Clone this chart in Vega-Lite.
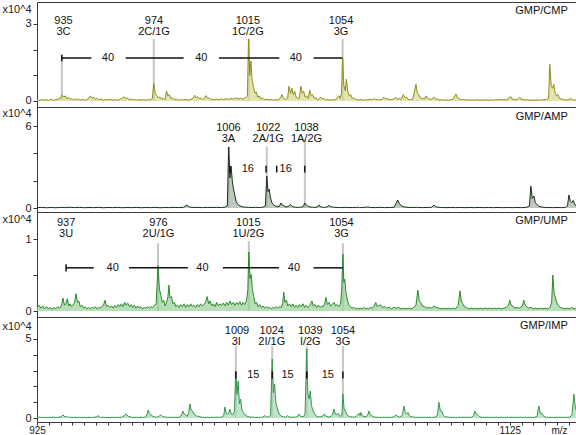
{
"$schema": "https://vega.github.io/schema/vega-lite/v6.json",
"padding": {"top": 1, "left": 0, "right": 1, "bottom": 0},
"spacing": 0,
"bounds": "flush",
"config": {
 "font": "Liberation Sans",
 "view": {"stroke": "#3a3a3a", "strokeWidth": 1},
 "axis": {"grid": false, "domain": false, "tickColor": "#333", "labelColor": "#222", "labelFontSize": 11, "titleFontSize": 11, "titleFontWeight": "normal", "titleColor": "#222", "tickSize": 3},
 "axisY": {"minExtent": 36, "maxExtent": 36, "labelPadding": 2, "tickSize": 4, "titleAngle": 0, "titleX": -35, "titleY": 7, "titleAlign": "left", "titleBaseline": "middle", "format": "~g"}
},
"datasets": {
 "cmp": [
  {"m":925,"v":0.05},{"m":926,"v":0.02},{"m":927,"v":0.06},{"m":928,"v":0.03},{"m":929,"v":0.05},{"m":930,"v":0.02},{"m":931,"v":0.07},{"m":932,"v":0.03},{"m":933,"v":0.05},{"m":934,"v":0.08},{"m":935,"v":0.12},{"m":935.6,"v":0.23},{"m":936.3,"v":0.15},{"m":937,"v":0.2},{"m":937.6,"v":0.08},{"m":938.3,"v":0.14},{"m":939,"v":0.06},{"m":939.7,"v":0.1},{"m":940.4,"v":0.04},{"m":941.1,"v":0.09},{"m":941.8,"v":0.05},{"m":942.5,"v":0.08},{"m":943.2,"v":0.03},{"m":944,"v":0.06},{"m":945,"v":0.03},{"m":946,"v":0.05},{"m":947,"v":0.12},{"m":947.6,"v":0.2},{"m":948.3,"v":0.1},{"m":949,"v":0.15},{"m":949.7,"v":0.06},{"m":950.4,"v":0.1},{"m":951.1,"v":0.04},{"m":952,"v":0.08},{"m":953,"v":0.03},{"m":954,"v":0.06},{"m":955,"v":0.04},{"m":956,"v":0.07},{"m":957,"v":0.03},{"m":958,"v":0.05},{"m":959,"v":0.03},{"m":960,"v":0.06},{"m":961,"v":0.1},{"m":961.7,"v":0.17},{"m":962.4,"v":0.08},{"m":963.1,"v":0.13},{"m":963.8,"v":0.05},{"m":964.5,"v":0.09},{"m":965.3,"v":0.04},{"m":966,"v":0.06},{"m":967,"v":0.03},{"m":968,"v":0.05},{"m":969,"v":0.04},{"m":970,"v":0.06},{"m":971,"v":0.03},{"m":972,"v":0.05},{"m":973,"v":0.04},{"m":973.8,"v":0.1},{"m":974.4,"v":0.68},{"m":975,"v":0.3},{"m":975.6,"v":0.22},{"m":976.3,"v":0.12},{"m":977,"v":0.16},{"m":977.7,"v":0.07},{"m":978.4,"v":0.1},{"m":979.1,"v":0.05},{"m":979.8,"v":0.39},{"m":980.4,"v":0.2},{"m":981,"v":0.25},{"m":981.6,"v":0.1},{"m":982.3,"v":0.12},{"m":983,"v":0.05},{"m":984,"v":0.07},{"m":985,"v":0.03},{"m":986,"v":0.05},{"m":987,"v":0.04},{"m":988,"v":0.06},{"m":989,"v":0.03},{"m":990,"v":0.06},{"m":991,"v":0.1},{"m":991.7,"v":0.22},{"m":992.3,"v":0.12},{"m":993,"v":0.17},{"m":993.7,"v":0.08},{"m":994.4,"v":0.12},{"m":995.1,"v":0.06},{"m":995.8,"v":0.1},{"m":996.5,"v":0.21},{"m":997.2,"v":0.1},{"m":997.9,"v":0.12},{"m":998.6,"v":0.05},{"m":999.3,"v":0.08},{"m":1000,"v":0.04},{"m":1001,"v":0.07},{"m":1002,"v":0.05},{"m":1003,"v":0.08},{"m":1004,"v":0.06},{"m":1005,"v":0.09},{"m":1006,"v":0.06},{"m":1007,"v":0.1},{"m":1008,"v":0.07},{"m":1009,"v":0.12},{"m":1010,"v":0.08},{"m":1011,"v":0.11},{"m":1012,"v":0.07},{"m":1013,"v":0.12},{"m":1014,"v":0.2},{"m":1014.5,"v":2.42},{"m":1015,"v":1.0},{"m":1015.5,"v":1.55},{"m":1016,"v":0.8},{"m":1016.6,"v":0.55},{"m":1017.2,"v":0.3},{"m":1017.8,"v":0.35},{"m":1018.4,"v":0.15},{"m":1019,"v":0.2},{"m":1019.7,"v":0.08},{"m":1020.4,"v":0.12},{"m":1021.1,"v":0.05},{"m":1022,"v":0.07},{"m":1023,"v":0.04},{"m":1024,"v":0.06},{"m":1025,"v":0.03},{"m":1026,"v":0.05},{"m":1027,"v":0.04},{"m":1028,"v":0.12},{"m":1028.6,"v":0.25},{"m":1029.2,"v":0.1},{"m":1030,"v":0.06},{"m":1031,"v":0.1},{"m":1031.6,"v":0.58},{"m":1032.2,"v":0.3},{"m":1032.8,"v":0.5},{"m":1033.4,"v":0.25},{"m":1034,"v":0.38},{"m":1034.6,"v":0.15},{"m":1035.3,"v":0.1},{"m":1036,"v":0.12},{"m":1036.6,"v":0.58},{"m":1037.2,"v":0.3},{"m":1037.8,"v":0.38},{"m":1038.4,"v":0.15},{"m":1039,"v":0.2},{"m":1039.7,"v":0.1},{"m":1040.4,"v":0.42},{"m":1041,"v":0.2},{"m":1041.6,"v":0.25},{"m":1042.3,"v":0.1},{"m":1043,"v":0.12},{"m":1043.7,"v":0.05},{"m":1044.4,"v":0.08},{"m":1045,"v":0.15},{"m":1045.6,"v":0.08},{"m":1046.3,"v":0.1},{"m":1047,"v":0.04},{"m":1048,"v":0.06},{"m":1049,"v":0.03},{"m":1050,"v":0.05},{"m":1051,"v":0.04},{"m":1052,"v":0.12},{"m":1052.6,"v":0.2},{"m":1053.2,"v":0.1},{"m":1053.8,"v":0.3},{"m":1054.3,"v":1.64},{"m":1054.8,"v":0.6},{"m":1055.4,"v":0.4},{"m":1055.9,"v":0.85},{"m":1056.5,"v":0.35},{"m":1057.1,"v":0.2},{"m":1057.7,"v":0.25},{"m":1058.3,"v":0.1},{"m":1059,"v":0.12},{"m":1060,"v":0.05},{"m":1061,"v":0.04},{"m":1062,"v":0.06},{"m":1063,"v":0.03},{"m":1064,"v":0.05},{"m":1065,"v":0.04},{"m":1066,"v":0.06},{"m":1067,"v":0.05},{"m":1067.5,"v":0.1},{"m":1068.2,"v":0.05},{"m":1069,"v":0.06},{"m":1070,"v":0.04},{"m":1071,"v":0.07},{"m":1071.7,"v":0.15},{"m":1072.4,"v":0.08},{"m":1073.1,"v":0.1},{"m":1074,"v":0.05},{"m":1075,"v":0.06},{"m":1076,"v":0.08},{"m":1076.8,"v":0.15},{"m":1077.5,"v":0.07},{"m":1078.2,"v":0.1},{"m":1079,"v":0.06},{"m":1080,"v":0.25},{"m":1080.6,"v":0.12},{"m":1081.3,"v":0.15},{"m":1082,"v":0.06},{"m":1083,"v":0.05},{"m":1084,"v":0.08},{"m":1085.3,"v":0.65},{"m":1085.9,"v":0.3},{"m":1086.5,"v":0.25},{"m":1087.2,"v":0.12},{"m":1088,"v":0.1},{"m":1089,"v":0.08},{"m":1089.5,"v":0.2},{"m":1090.2,"v":0.1},{"m":1091,"v":0.08},{"m":1092,"v":0.06},{"m":1092.9,"v":0.15},{"m":1093.6,"v":0.07},{"m":1094.3,"v":0.08},{"m":1095,"v":0.04},{"m":1096,"v":0.05},{"m":1097,"v":0.03},{"m":1098,"v":0.04},{"m":1099,"v":0.03},{"m":1100,"v":0.05},{"m":1101,"v":0.06},{"m":1102.2,"v":0.27},{"m":1102.8,"v":0.12},{"m":1103.5,"v":0.1},{"m":1104.2,"v":0.05},{"m":1105,"v":0.06},{"m":1106,"v":0.04},{"m":1107,"v":0.05},{"m":1108,"v":0.03},{"m":1109,"v":0.04},{"m":1110,"v":0.03},{"m":1111,"v":0.05},{"m":1112,"v":0.03},{"m":1113,"v":0.04},{"m":1114,"v":0.03},{"m":1115,"v":0.05},{"m":1116,"v":0.03},{"m":1117,"v":0.04},{"m":1118,"v":0.03},{"m":1119,"v":0.05},{"m":1120,"v":0.04},{"m":1121,"v":0.06},{"m":1122,"v":0.04},{"m":1123,"v":0.05},{"m":1124,"v":0.07},{"m":1125.4,"v":0.17},{"m":1126,"v":0.08},{"m":1127,"v":0.06},{"m":1128,"v":0.05},{"m":1129.2,"v":0.15},{"m":1129.8,"v":0.07},{"m":1130.5,"v":0.06},{"m":1131.5,"v":0.04},{"m":1132.5,"v":0.05},{"m":1133.5,"v":0.03},{"m":1134.5,"v":0.04},{"m":1135.5,"v":0.03},{"m":1136.5,"v":0.04},{"m":1137.5,"v":0.03},{"m":1138.5,"v":0.04},{"m":1139.5,"v":0.05},{"m":1140.5,"v":0.06},{"m":1141.4,"v":0.1},{"m":1141.9,"v":1.43},{"m":1142.5,"v":0.6},{"m":1143.1,"v":0.5},{"m":1143.6,"v":0.65},{"m":1144.2,"v":0.3},{"m":1144.8,"v":0.2},{"m":1145.4,"v":0.25},{"m":1146,"v":0.1},{"m":1147,"v":0.07},{"m":1148,"v":0.05},{"m":1149,"v":0.04},{"m":1150,"v":0.06},{"m":1150.8,"v":0.1},{"m":1151.5,"v":0.04},{"m":1152.3,"v":0.05},{"m":1153,"v":0.03}
 ],
 "amp": [
  {"m":925,"v":0.03},{"m":927,"v":0.05},{"m":929,"v":0.02},{"m":931,"v":0.04},{"m":933,"v":0.02},{"m":935,"v":0.05},{"m":937,"v":0.03},{"m":939,"v":0.06},{"m":941,"v":0.03},{"m":943,"v":0.05},{"m":945,"v":0.02},{"m":947,"v":0.04},{"m":949,"v":0.03},{"m":951,"v":0.05},{"m":953,"v":0.02},{"m":955,"v":0.04},{"m":957,"v":0.03},{"m":959,"v":0.05},{"m":961,"v":0.02},{"m":963,"v":0.04},{"m":965,"v":0.03},{"m":967,"v":0.05},{"m":969,"v":0.02},{"m":971,"v":0.04},{"m":973,"v":0.03},{"m":975,"v":0.05},{"m":977,"v":0.02},{"m":979,"v":0.04},{"m":981,"v":0.03},{"m":983,"v":0.05},{"m":985,"v":0.03},{"m":987,"v":0.06},{"m":988.4,"v":0.22},{"m":989.2,"v":0.1},{"m":990,"v":0.06},{"m":991,"v":0.04},{"m":993,"v":0.05},{"m":995,"v":0.03},{"m":997,"v":0.05},{"m":999,"v":0.04},{"m":1001,"v":0.05},{"m":1003,"v":0.04},{"m":1004.5,"v":0.06},{"m":1005.5,"v":0.15},{"m":1006.1,"v":4.46},{"m":1006.6,"v":2.2},{"m":1007.1,"v":3.07},{"m":1007.6,"v":2.0},{"m":1008.1,"v":1.4},{"m":1008.6,"v":1.0},{"m":1009.2,"v":0.5},{"m":1009.8,"v":0.3},{"m":1010.5,"v":0.2},{"m":1011.3,"v":0.12},{"m":1012.2,"v":0.08},{"m":1013.2,"v":0.06},{"m":1014.5,"v":0.05},{"m":1016,"v":0.04},{"m":1017.5,"v":0.05},{"m":1019,"v":0.04},{"m":1020.5,"v":0.06},{"m":1021.6,"v":0.15},{"m":1022.2,"v":2.34},{"m":1022.7,"v":1.2},{"m":1023.2,"v":1.39},{"m":1023.7,"v":0.8},{"m":1024.3,"v":0.4},{"m":1025,"v":0.25},{"m":1025.8,"v":0.15},{"m":1026.6,"v":0.1},{"m":1027.5,"v":0.12},{"m":1028.2,"v":0.37},{"m":1028.9,"v":0.2},{"m":1029.6,"v":0.15},{"m":1030.3,"v":0.08},{"m":1031.2,"v":0.1},{"m":1032.2,"v":0.25},{"m":1032.9,"v":0.12},{"m":1033.6,"v":0.08},{"m":1034.5,"v":0.06},{"m":1035.5,"v":0.05},{"m":1036.5,"v":0.06},{"m":1037.6,"v":0.1},{"m":1038.3,"v":0.37},{"m":1039,"v":0.2},{"m":1039.7,"v":0.12},{"m":1040.5,"v":0.08},{"m":1041.5,"v":0.06},{"m":1042.5,"v":0.05},{"m":1043.5,"v":0.07},{"m":1044.2,"v":0.22},{"m":1044.9,"v":0.1},{"m":1045.7,"v":0.06},{"m":1046.6,"v":0.05},{"m":1047.6,"v":0.07},{"m":1048.5,"v":0.2},{"m":1049.2,"v":0.1},{"m":1050,"v":0.07},{"m":1051,"v":0.05},{"m":1052.5,"v":0.04},{"m":1054,"v":0.03},{"m":1055.5,"v":0.05},{"m":1057,"v":0.03},{"m":1058.5,"v":0.04},{"m":1060,"v":0.03},{"m":1060.7,"v":0.07},{"m":1061.5,"v":0.03},{"m":1063,"v":0.04},{"m":1065,"v":0.08},{"m":1066,"v":0.04},{"m":1068,"v":0.03},{"m":1070,"v":0.05},{"m":1072,"v":0.03},{"m":1074,"v":0.04},{"m":1076,"v":0.05},{"m":1077.6,"v":0.58},{"m":1078.3,"v":0.3},{"m":1079,"v":0.2},{"m":1079.8,"v":0.1},{"m":1080.8,"v":0.07},{"m":1082,"v":0.05},{"m":1084,"v":0.04},{"m":1086,"v":0.05},{"m":1088,"v":0.03},{"m":1090,"v":0.04},{"m":1092,"v":0.06},{"m":1092.9,"v":0.22},{"m":1093.6,"v":0.1},{"m":1094.5,"v":0.06},{"m":1096,"v":0.04},{"m":1098,"v":0.03},{"m":1100,"v":0.04},{"m":1102,"v":0.03},{"m":1104,"v":0.04},{"m":1106,"v":0.03},{"m":1108,"v":0.04},{"m":1110,"v":0.03},{"m":1112,"v":0.04},{"m":1114,"v":0.03},{"m":1116,"v":0.04},{"m":1118,"v":0.03},{"m":1120,"v":0.04},{"m":1122,"v":0.03},{"m":1124,"v":0.04},{"m":1126,"v":0.03},{"m":1128,"v":0.04},{"m":1130,"v":0.03},{"m":1132,"v":0.05},{"m":1133.3,"v":0.15},{"m":1133.9,"v":1.6},{"m":1134.5,"v":0.7},{"m":1135.2,"v":0.88},{"m":1135.8,"v":0.4},{"m":1136.5,"v":0.25},{"m":1137.3,"v":0.12},{"m":1138.2,"v":0.08},{"m":1139.5,"v":0.05},{"m":1141,"v":0.04},{"m":1143,"v":0.03},{"m":1145,"v":0.04},{"m":1147,"v":0.03},{"m":1148.5,"v":0.05},{"m":1149.4,"v":0.15},{"m":1150,"v":0.95},{"m":1150.6,"v":0.5},{"m":1151.2,"v":0.4},{"m":1151.8,"v":0.55},{"m":1152.4,"v":0.3},{"m":1153,"v":0.15}
 ],
 "ump": [
  {"m":925,"v":0.05},{"m":925.8,"v":0.08},{"m":926.6,"v":0.04},{"m":927.4,"v":0.07},{"m":928.2,"v":0.03},{"m":929,"v":0.06},{"m":929.8,"v":0.03},{"m":930.6,"v":0.05},{"m":931.4,"v":0.02},{"m":932.2,"v":0.05},{"m":933,"v":0.03},{"m":933.8,"v":0.06},{"m":934.6,"v":0.04},{"m":935.4,"v":0.08},{"m":936,"v":0.18},{"m":936.6,"v":0.08},{"m":937.2,"v":0.1},{"m":937.8,"v":0.17},{"m":938.4,"v":0.07},{"m":939,"v":0.1},{"m":939.6,"v":0.06},{"m":940.2,"v":0.08},{"m":940.9,"v":0.12},{"m":941.5,"v":0.24},{"m":942.1,"v":0.12},{"m":942.7,"v":0.14},{"m":943.3,"v":0.06},{"m":944,"v":0.08},{"m":944.7,"v":0.04},{"m":945.4,"v":0.06},{"m":946.1,"v":0.03},{"m":946.8,"v":0.05},{"m":947.5,"v":0.03},{"m":948.2,"v":0.05},{"m":948.9,"v":0.04},{"m":949.6,"v":0.06},{"m":950.3,"v":0.03},{"m":951,"v":0.05},{"m":951.7,"v":0.04},{"m":952.4,"v":0.06},{"m":953.1,"v":0.08},{"m":953.8,"v":0.15},{"m":954.4,"v":0.06},{"m":955.1,"v":0.08},{"m":955.8,"v":0.05},{"m":956.5,"v":0.07},{"m":957.2,"v":0.04},{"m":957.9,"v":0.08},{"m":958.6,"v":0.05},{"m":959.3,"v":0.09},{"m":960,"v":0.06},{"m":960.7,"v":0.1},{"m":961.4,"v":0.06},{"m":962.1,"v":0.12},{"m":962.7,"v":0.08},{"m":963.4,"v":0.11},{"m":964.1,"v":0.06},{"m":964.8,"v":0.09},{"m":965.5,"v":0.05},{"m":966.2,"v":0.08},{"m":966.9,"v":0.04},{"m":967.6,"v":0.07},{"m":968.3,"v":0.04},{"m":969,"v":0.06},{"m":969.7,"v":0.03},{"m":970.4,"v":0.05},{"m":971.1,"v":0.04},{"m":971.8,"v":0.06},{"m":972.5,"v":0.04},{"m":973.2,"v":0.06},{"m":973.9,"v":0.05},{"m":974.6,"v":0.07},{"m":975.4,"v":0.1},{"m":976.2,"v":0.63},{"m":976.8,"v":0.3},{"m":977.4,"v":0.22},{"m":978,"v":0.12},{"m":978.6,"v":0.15},{"m":979.2,"v":0.07},{"m":979.8,"v":0.12},{"m":980.4,"v":0.2},{"m":980.8,"v":0.36},{"m":981.3,"v":0.18},{"m":981.9,"v":0.2},{"m":982.5,"v":0.1},{"m":983.1,"v":0.12},{"m":983.7,"v":0.06},{"m":984.4,"v":0.08},{"m":985.1,"v":0.05},{"m":985.8,"v":0.09},{"m":986.5,"v":0.06},{"m":987.2,"v":0.1},{"m":987.9,"v":0.05},{"m":988.6,"v":0.09},{"m":989.3,"v":0.06},{"m":990,"v":0.1},{"m":990.7,"v":0.06},{"m":991.4,"v":0.08},{"m":992.1,"v":0.05},{"m":992.8,"v":0.09},{"m":993.5,"v":0.06},{"m":994.2,"v":0.1},{"m":994.9,"v":0.07},{"m":995.6,"v":0.09},{"m":996.3,"v":0.12},{"m":997,"v":0.2},{"m":997.6,"v":0.1},{"m":998.2,"v":0.14},{"m":998.9,"v":0.07},{"m":999.6,"v":0.1},{"m":1000.3,"v":0.06},{"m":1001,"v":0.12},{"m":1001.7,"v":0.07},{"m":1002.4,"v":0.1},{"m":1003.1,"v":0.08},{"m":1003.8,"v":0.11},{"m":1004.5,"v":0.07},{"m":1005.2,"v":0.12},{"m":1005.9,"v":0.08},{"m":1006.6,"v":0.14},{"m":1007.3,"v":0.09},{"m":1008,"v":0.12},{"m":1008.7,"v":0.08},{"m":1009.4,"v":0.12},{"m":1010.1,"v":0.09},{"m":1010.8,"v":0.13},{"m":1011.5,"v":0.08},{"m":1012.2,"v":0.12},{"m":1012.9,"v":0.09},{"m":1013.6,"v":0.14},{"m":1014.2,"v":0.3},{"m":1014.6,"v":0.82},{"m":1015.1,"v":0.45},{"m":1015.6,"v":0.51},{"m":1016.1,"v":0.3},{"m":1016.7,"v":0.2},{"m":1017.3,"v":0.1},{"m":1017.9,"v":0.12},{"m":1018.5,"v":0.06},{"m":1019.2,"v":0.09},{"m":1019.9,"v":0.05},{"m":1020.6,"v":0.07},{"m":1021.3,"v":0.04},{"m":1022,"v":0.06},{"m":1022.7,"v":0.04},{"m":1023.4,"v":0.05},{"m":1024.1,"v":0.03},{"m":1024.8,"v":0.05},{"m":1025.5,"v":0.04},{"m":1026.2,"v":0.06},{"m":1026.9,"v":0.04},{"m":1027.6,"v":0.06},{"m":1028.3,"v":0.05},{"m":1028.9,"v":0.1},{"m":1029.4,"v":0.26},{"m":1029.9,"v":0.12},{"m":1030.5,"v":0.15},{"m":1031.1,"v":0.07},{"m":1031.8,"v":0.1},{"m":1032.5,"v":0.06},{"m":1033.2,"v":0.1},{"m":1033.9,"v":0.05},{"m":1034.6,"v":0.08},{"m":1035.3,"v":0.05},{"m":1036,"v":0.09},{"m":1036.7,"v":0.06},{"m":1037.5,"v":0.1},{"m":1038.2,"v":0.05},{"m":1038.9,"v":0.08},{"m":1039.6,"v":0.05},{"m":1040.3,"v":0.07},{"m":1041.3,"v":0.14},{"m":1041.9,"v":0.07},{"m":1042.6,"v":0.09},{"m":1043.3,"v":0.05},{"m":1044,"v":0.08},{"m":1044.7,"v":0.05},{"m":1045.4,"v":0.07},{"m":1046.1,"v":0.06},{"m":1046.7,"v":0.1},{"m":1047.2,"v":0.19},{"m":1047.8,"v":0.09},{"m":1048.5,"v":0.12},{"m":1049.2,"v":0.07},{"m":1049.9,"v":0.09},{"m":1050.6,"v":0.12},{"m":1051.3,"v":0.07},{"m":1052,"v":0.09},{"m":1052.7,"v":0.06},{"m":1053.4,"v":0.1},{"m":1053.9,"v":0.3},{"m":1054.4,"v":0.79},{"m":1054.8,"v":0.4},{"m":1055.2,"v":0.44},{"m":1055.7,"v":0.25},{"m":1056.3,"v":0.15},{"m":1056.9,"v":0.08},{"m":1057.6,"v":0.06},{"m":1058.3,"v":0.04},{"m":1059,"v":0.05},{"m":1059.7,"v":0.03},{"m":1060.4,"v":0.04},{"m":1061.1,"v":0.03},{"m":1061.8,"v":0.04},{"m":1062.5,"v":0.03},{"m":1063.2,"v":0.05},{"m":1063.9,"v":0.03},{"m":1064.6,"v":0.04},{"m":1065.3,"v":0.03},{"m":1066,"v":0.05},{"m":1066.7,"v":0.04},{"m":1067.5,"v":0.06},{"m":1068.3,"v":0.12},{"m":1068.9,"v":0.06},{"m":1069.6,"v":0.08},{"m":1070.5,"v":0.08},{"m":1071.2,"v":0.05},{"m":1072,"v":0.06},{"m":1073,"v":0.04},{"m":1074,"v":0.05},{"m":1075,"v":0.03},{"m":1076,"v":0.05},{"m":1077,"v":0.04},{"m":1078,"v":0.05},{"m":1079,"v":0.03},{"m":1080,"v":0.04},{"m":1081,"v":0.03},{"m":1082,"v":0.04},{"m":1083,"v":0.03},{"m":1084,"v":0.04},{"m":1085.3,"v":0.08},{"m":1086.1,"v":0.29},{"m":1086.7,"v":0.14},{"m":1087.3,"v":0.12},{"m":1088,"v":0.07},{"m":1089,"v":0.06},{"m":1090,"v":0.04},{"m":1091,"v":0.05},{"m":1092,"v":0.04},{"m":1092.9,"v":0.07},{"m":1093.8,"v":0.05},{"m":1095,"v":0.04},{"m":1096,"v":0.03},{"m":1097,"v":0.04},{"m":1098,"v":0.03},{"m":1099,"v":0.04},{"m":1100,"v":0.03},{"m":1101,"v":0.04},{"m":1102,"v":0.03},{"m":1103.2,"v":0.08},{"m":1103.9,"v":0.28},{"m":1104.5,"v":0.14},{"m":1105.1,"v":0.1},{"m":1105.8,"v":0.06},{"m":1106.6,"v":0.05},{"m":1107.5,"v":0.03},{"m":1108.5,"v":0.04},{"m":1109.5,"v":0.03},{"m":1110.5,"v":0.04},{"m":1111.5,"v":0.03},{"m":1112.5,"v":0.04},{"m":1113.5,"v":0.03},{"m":1114.5,"v":0.04},{"m":1115.5,"v":0.03},{"m":1116.5,"v":0.04},{"m":1117.5,"v":0.03},{"m":1118.5,"v":0.04},{"m":1119.5,"v":0.03},{"m":1120.5,"v":0.04},{"m":1121.5,"v":0.03},{"m":1122.5,"v":0.04},{"m":1123.5,"v":0.05},{"m":1124.4,"v":0.08},{"m":1125,"v":0.15},{"m":1125.6,"v":0.08},{"m":1126.3,"v":0.07},{"m":1127,"v":0.04},{"m":1128,"v":0.05},{"m":1129,"v":0.04},{"m":1130.3,"v":0.07},{"m":1130.9,"v":0.15},{"m":1131.5,"v":0.08},{"m":1132.2,"v":0.06},{"m":1133,"v":0.04},{"m":1134,"v":0.05},{"m":1135,"v":0.03},{"m":1136,"v":0.04},{"m":1137,"v":0.03},{"m":1138,"v":0.04},{"m":1139,"v":0.03},{"m":1140,"v":0.04},{"m":1141,"v":0.03},{"m":1142,"v":0.05},{"m":1142.7,"v":0.12},{"m":1143.2,"v":0.5},{"m":1143.7,"v":0.25},{"m":1144.2,"v":0.2},{"m":1144.8,"v":0.12},{"m":1145.5,"v":0.08},{"m":1146.3,"v":0.05},{"m":1147.2,"v":0.04},{"m":1148.2,"v":0.03},{"m":1149.2,"v":0.04},{"m":1150.2,"v":0.03},{"m":1151.2,"v":0.05},{"m":1152.2,"v":0.03},{"m":1153,"v":0.04}
 ],
 "imp": [
  {"m":925,"v":0.04},{"m":926,"v":0.06},{"m":927,"v":0.03},{"m":928,"v":0.05},{"m":929,"v":0.02},{"m":930,"v":0.05},{"m":931,"v":0.03},{"m":932,"v":0.06},{"m":933,"v":0.03},{"m":934,"v":0.05},{"m":935.2,"v":0.08},{"m":936,"v":0.2},{"m":936.7,"v":0.08},{"m":937.5,"v":0.1},{"m":938.3,"v":0.04},{"m":939.2,"v":0.06},{"m":940.1,"v":0.03},{"m":941,"v":0.05},{"m":942,"v":0.03},{"m":943,"v":0.05},{"m":944,"v":0.03},{"m":945,"v":0.04},{"m":946,"v":0.03},{"m":947,"v":0.05},{"m":948,"v":0.03},{"m":949,"v":0.05},{"m":950,"v":0.06},{"m":950.8,"v":0.15},{"m":951.5,"v":0.06},{"m":952.3,"v":0.04},{"m":953.2,"v":0.05},{"m":954.1,"v":0.03},{"m":955,"v":0.04},{"m":956,"v":0.03},{"m":957,"v":0.05},{"m":958,"v":0.03},{"m":959,"v":0.05},{"m":960,"v":0.04},{"m":961,"v":0.06},{"m":961.8,"v":0.12},{"m":962.4,"v":0.25},{"m":963,"v":0.2},{"m":963.7,"v":0.1},{"m":964.4,"v":0.08},{"m":965.2,"v":0.05},{"m":966,"v":0.04},{"m":967,"v":0.05},{"m":968,"v":0.03},{"m":969,"v":0.05},{"m":970,"v":0.04},{"m":971,"v":0.06},{"m":971.5,"v":0.2},{"m":972,"v":0.5},{"m":972.6,"v":0.3},{"m":973.2,"v":0.2},{"m":973.9,"v":0.12},{"m":974.6,"v":0.08},{"m":975.4,"v":0.05},{"m":976.2,"v":0.07},{"m":977.4,"v":0.2},{"m":978.1,"v":0.1},{"m":978.9,"v":0.07},{"m":979.8,"v":0.05},{"m":980.7,"v":0.04},{"m":981.6,"v":0.05},{"m":982.5,"v":0.04},{"m":983.4,"v":0.05},{"m":984.3,"v":0.04},{"m":985.2,"v":0.06},{"m":986,"v":0.15},{"m":986.7,"v":0.44},{"m":987.3,"v":0.25},{"m":987.9,"v":0.2},{"m":988.5,"v":0.1},{"m":989.2,"v":0.35},{"m":989.7,"v":0.89},{"m":990.2,"v":0.5},{"m":990.8,"v":0.45},{"m":991.4,"v":0.25},{"m":992,"v":0.2},{"m":992.7,"v":0.1},{"m":993.4,"v":0.12},{"m":994.2,"v":0.07},{"m":995,"v":0.05},{"m":996,"v":0.04},{"m":997,"v":0.05},{"m":998,"v":0.03},{"m":999,"v":0.05},{"m":1000,"v":0.04},{"m":1001,"v":0.06},{"m":1002,"v":0.04},{"m":1003,"v":0.06},{"m":1004,"v":0.15},{"m":1004.5,"v":0.7},{"m":1005,"v":0.3},{"m":1005.5,"v":0.25},{"m":1006.1,"v":0.3},{"m":1006.6,"v":0.55},{"m":1007.2,"v":0.25},{"m":1007.8,"v":0.2},{"m":1008.5,"v":0.4},{"m":1009.1,"v":2.97},{"m":1009.6,"v":1.5},{"m":1010.1,"v":2.34},{"m":1010.6,"v":0.9},{"m":1011.1,"v":1.2},{"m":1011.7,"v":0.5},{"m":1012.3,"v":0.35},{"m":1013,"v":0.2},{"m":1013.8,"v":0.12},{"m":1014.6,"v":0.08},{"m":1015.5,"v":0.06},{"m":1016.5,"v":0.05},{"m":1017.5,"v":0.04},{"m":1018.5,"v":0.05},{"m":1019.5,"v":0.04},{"m":1020.5,"v":0.06},{"m":1021.3,"v":0.15},{"m":1022,"v":0.08},{"m":1023,"v":0.06},{"m":1023.8,"v":0.2},{"m":1024.5,"v":3.73},{"m":1025,"v":1.6},{"m":1025.5,"v":2.15},{"m":1026,"v":1.0},{"m":1026.5,"v":0.7},{"m":1027.1,"v":0.4},{"m":1027.7,"v":0.2},{"m":1028.4,"v":0.12},{"m":1029.2,"v":0.08},{"m":1030.1,"v":0.06},{"m":1031,"v":0.15},{"m":1031.7,"v":0.07},{"m":1032.5,"v":0.05},{"m":1033.3,"v":0.06},{"m":1034.2,"v":0.05},{"m":1035.1,"v":0.1},{"m":1035.8,"v":0.25},{"m":1036.4,"v":0.12},{"m":1037.1,"v":0.1},{"m":1037.8,"v":0.08},{"m":1038.4,"v":0.3},{"m":1039.1,"v":4.37},{"m":1039.6,"v":1.52},{"m":1040.1,"v":1.2},{"m":1040.6,"v":1.71},{"m":1041.1,"v":0.8},{"m":1041.7,"v":0.5},{"m":1042.3,"v":0.3},{"m":1042.9,"v":0.15},{"m":1043.6,"v":0.1},{"m":1044.4,"v":0.07},{"m":1045.2,"v":0.08},{"m":1046,"v":0.15},{"m":1046.5,"v":0.25},{"m":1047.1,"v":0.12},{"m":1047.8,"v":0.1},{"m":1048.5,"v":0.06},{"m":1049.3,"v":0.1},{"m":1050,"v":0.2},{"m":1050.6,"v":0.57},{"m":1051.2,"v":0.25},{"m":1051.8,"v":0.2},{"m":1052.3,"v":0.3},{"m":1052.9,"v":0.15},{"m":1053.5,"v":0.1},{"m":1054,"v":0.25},{"m":1054.4,"v":1.52},{"m":1054.9,"v":0.6},{"m":1055.6,"v":0.4},{"m":1056.2,"v":0.2},{"m":1056.9,"v":0.12},{"m":1057.6,"v":0.08},{"m":1058.4,"v":0.07},{"m":1059.2,"v":0.06},{"m":1060,"v":0.1},{"m":1060.6,"v":0.2},{"m":1061.2,"v":0.3},{"m":1061.7,"v":0.15},{"m":1062,"v":0.35},{"m":1062.6,"v":0.15},{"m":1063.3,"v":0.1},{"m":1064.2,"v":0.08},{"m":1064.9,"v":0.2},{"m":1065.4,"v":0.45},{"m":1066,"v":0.2},{"m":1066.6,"v":0.15},{"m":1067.3,"v":0.08},{"m":1068.1,"v":0.06},{"m":1069,"v":0.05},{"m":1070,"v":0.04},{"m":1071,"v":0.05},{"m":1072,"v":0.04},{"m":1073,"v":0.05},{"m":1074,"v":0.04},{"m":1075,"v":0.05},{"m":1076,"v":0.08},{"m":1076.8,"v":0.2},{"m":1077.5,"v":0.1},{"m":1078.3,"v":0.06},{"m":1079.2,"v":0.1},{"m":1079.7,"v":0.3},{"m":1080.2,"v":0.76},{"m":1080.8,"v":0.35},{"m":1081.4,"v":0.25},{"m":1081.9,"v":0.35},{"m":1082.5,"v":0.15},{"m":1083.2,"v":0.08},{"m":1084,"v":0.06},{"m":1085,"v":0.05},{"m":1086,"v":0.04},{"m":1087,"v":0.05},{"m":1088,"v":0.04},{"m":1089,"v":0.05},{"m":1090,"v":0.04},{"m":1091,"v":0.05},{"m":1092,"v":0.04},{"m":1093,"v":0.05},{"m":1094,"v":0.08},{"m":1094.5,"v":0.3},{"m":1095,"v":1.0},{"m":1095.6,"v":0.45},{"m":1096.2,"v":0.45},{"m":1096.8,"v":0.2},{"m":1097.5,"v":0.1},{"m":1098.3,"v":0.07},{"m":1099.2,"v":0.05},{"m":1100.1,"v":0.04},{"m":1101,"v":0.05},{"m":1102,"v":0.04},{"m":1103,"v":0.05},{"m":1104,"v":0.04},{"m":1105,"v":0.05},{"m":1106,"v":0.04},{"m":1107,"v":0.05},{"m":1108,"v":0.04},{"m":1109,"v":0.06},{"m":1109.7,"v":0.15},{"m":1110.2,"v":0.44},{"m":1110.8,"v":0.25},{"m":1111.4,"v":0.2},{"m":1112,"v":0.1},{"m":1112.7,"v":0.06},{"m":1113.5,"v":0.05},{"m":1114.5,"v":0.04},{"m":1115.5,"v":0.05},{"m":1116.5,"v":0.04},{"m":1117.5,"v":0.05},{"m":1118.5,"v":0.04},{"m":1119.5,"v":0.05},{"m":1120.5,"v":0.04},{"m":1121.5,"v":0.05},{"m":1122.5,"v":0.04},{"m":1123.5,"v":0.05},{"m":1124.5,"v":0.04},{"m":1125.5,"v":0.05},{"m":1126.5,"v":0.04},{"m":1127.5,"v":0.05},{"m":1128.5,"v":0.04},{"m":1129.5,"v":0.05},{"m":1130.5,"v":0.04},{"m":1131.5,"v":0.05},{"m":1132.5,"v":0.04},{"m":1133.5,"v":0.05},{"m":1134.5,"v":0.04},{"m":1135.5,"v":0.05},{"m":1136.5,"v":0.1},{"m":1137.3,"v":0.76},{"m":1137.9,"v":0.3},{"m":1138.5,"v":0.3},{"m":1139.1,"v":0.15},{"m":1139.8,"v":0.08},{"m":1140.6,"v":0.05},{"m":1141.5,"v":0.04},{"m":1142.5,"v":0.05},{"m":1143.5,"v":0.04},{"m":1144.5,"v":0.05},{"m":1145.5,"v":0.04},{"m":1146.5,"v":0.05},{"m":1147.5,"v":0.04},{"m":1148.5,"v":0.05},{"m":1149.5,"v":0.04},{"m":1150.5,"v":0.06},{"m":1151.3,"v":0.2},{"m":1152.1,"v":1.52},{"m":1152.6,"v":0.8},{"m":1153,"v":0.5}
 ]
},
"vconcat": [
 {
  "width": 539, "height": 105,
  "encoding": {
   "x": {"field": "m", "type": "quantitative", "scale": {"domain": [925, 1153], "nice": false, "zero": false}, "axis": null},
   "y": {"field": "v", "type": "quantitative", "scale": {"domain": [-0.234, 3.857], "nice": false, "zero": false}, "axis": {"values": [0, 1, 2, 3], "labelExpr": "datum.value==0||datum.value==3?datum.label:''", "title": "x10^4"}}
  },
  "layer": [
   {"data": {"values": [{"m":935.5,"v":1.8},{"m":974.4,"v":2.42},{"m":1014.6,"v":2.42},{"m":1054.3,"v":2.42}]}, "mark": {"type": "rule", "color": "#c6c6c6", "strokeWidth": 2}, "encoding": {"y2": {"datum": 0}}},
   {"data": {"name": "cmp"}, "mark": {"type": "area", "color": "#d8d890", "line": {"color": "#8e8e1c", "strokeWidth": 1}}, "encoding": {"y2": {"datum": 0}}},
   {"data": {"values": [{"m":935.5,"m2":948,"v":1.675},{"m":962.5,"m2":987,"v":1.675},{"m":1002,"m2":1027.5,"v":1.675},{"m":1042,"m2":1054.3,"v":1.675}]}, "mark": {"type": "rule", "color": "#111", "strokeWidth": 1.5}, "encoding": {"x2": {"field": "m2"}}},
   {"data": {"values": [{"m":935.5,"v":1.55,"v2":1.8}]}, "mark": {"type": "rule", "color": "#111", "strokeWidth": 1.5}, "encoding": {"y2": {"field": "v2"}}},
   {"data": {"values": [{"m":936.2,"v":3.12,"t":"935"},{"m":936.2,"v":2.69,"t":"3C"},{"m":974.5,"v":3.12,"t":"974"},{"m":974.5,"v":2.69,"t":"2C/1G"},{"m":1014.2,"v":3.12,"t":"1015"},{"m":1014.2,"v":2.69,"t":"1C/2G"},{"m":1053.6,"v":3.12,"t":"1054"},{"m":1053.6,"v":2.69,"t":"3G"},{"m":955,"v":1.675,"t":"40"},{"m":994.5,"v":1.675,"t":"40"},{"m":1034.5,"v":1.675,"t":"40"}]}, "mark": {"type": "text", "fontSize": 11, "color": "#111", "baseline": "middle"}, "encoding": {"text": {"field": "t"}}},
   {"data": {"values": [{"m":1149.5,"v":3.5,"t":"GMP/CMP"}]}, "mark": {"type": "text", "fontSize": 11, "color": "#111", "align": "right", "baseline": "middle"}, "encoding": {"text": {"field": "t"}}}
  ]
 },
 {
  "width": 539, "height": 105,
  "encoding": {
   "x": {"field": "m", "type": "quantitative", "scale": {"domain": [925, 1153], "nice": false, "zero": false}, "axis": null},
   "y": {"field": "v", "type": "quantitative", "scale": {"domain": [-0.29, 7.39], "nice": false, "zero": false}, "axis": {"values": [0, 2, 4, 6], "labelExpr": "datum.value==0||datum.value==6?datum.label:''", "title": "x10^4", "titleY": 6}}
  },
  "layer": [
   {"data": {"values": [{"m":1006.1,"v":4.5},{"m":1022.2,"v":4.5},{"m":1038.3,"v":5.0}]}, "mark": {"type": "rule", "color": "#c6c6c6", "strokeWidth": 2}, "encoding": {"y2": {"datum": 0}}},
   {"data": {"name": "amp"}, "mark": {"type": "area", "color": "#a3b3a3", "line": {"color": "#1c2e1c", "strokeWidth": 1}}, "encoding": {"y2": {"datum": 0}}},
   {"data": {"values": [{"m":1006.6,"v":2.6,"v2":3.1},{"m":1021.9,"v":2.6,"v2":3.1},{"m":1026.4,"v":2.6,"v2":3.1},{"m":1038.3,"v":2.6,"v2":3.1}]}, "mark": {"type": "rule", "color": "#111", "strokeWidth": 1.5}, "encoding": {"y2": {"field": "v2"}}},
   {"data": {"values": [{"m":1006,"v":5.85,"t":"1006"},{"m":1006,"v":5.04,"t":"3A"},{"m":1022.8,"v":5.85,"t":"1022"},{"m":1022.8,"v":5.04,"t":"2A/1G"},{"m":1039,"v":5.85,"t":"1038"},{"m":1039,"v":5.04,"t":"1A/2G"},{"m":1014.2,"v":2.85,"t":"16"},{"m":1030.2,"v":2.85,"t":"16"}]}, "mark": {"type": "text", "fontSize": 11, "color": "#111", "baseline": "middle"}, "encoding": {"text": {"field": "t"}}},
   {"data": {"values": [{"m":1149.5,"v":6.66,"t":"GMP/AMP"}]}, "mark": {"type": "text", "fontSize": 11, "color": "#111", "align": "right", "baseline": "middle"}, "encoding": {"text": {"field": "t"}}}
  ]
 },
 {
  "width": 539, "height": 105,
  "encoding": {
   "x": {"field": "m", "type": "quantitative", "scale": {"domain": [925, 1153], "nice": false, "zero": false}, "axis": null},
   "y": {"field": "v", "type": "quantitative", "scale": {"domain": [-0.083, 1.375], "nice": false, "zero": false}, "axis": {"values": [0, 0.5, 1], "labelExpr": "datum.value==0||datum.value==1?datum.label:''", "title": "x10^4"}}
  },
  "layer": [
   {"data": {"values": [{"m":976.2,"v":0.94},{"m":1014.6,"v":0.97},{"m":1054.4,"v":0.94}]}, "mark": {"type": "rule", "color": "#c6c6c6", "strokeWidth": 2}, "encoding": {"y2": {"datum": 0}}},
   {"data": {"name": "ump"}, "mark": {"type": "area", "color": "#98d098", "line": {"color": "#2a8a2a", "strokeWidth": 1}}, "encoding": {"y2": {"datum": 0}}},
   {"data": {"values": [{"m":937.3,"m2":949,"v":0.6},{"m":964,"m2":988.8,"v":0.6},{"m":1003.6,"m2":1027.3,"v":0.6},{"m":1042,"m2":1054.4,"v":0.6}]}, "mark": {"type": "rule", "color": "#111", "strokeWidth": 1.5}, "encoding": {"x2": {"field": "m2"}}},
   {"data": {"values": [{"m":937.3,"v":0.55,"v2":0.65}]}, "mark": {"type": "rule", "color": "#111", "strokeWidth": 1.5}, "encoding": {"y2": {"field": "v2"}}},
   {"data": {"values": [{"m":937.3,"v":1.225,"t":"937"},{"m":937.3,"v":1.07,"t":"3U"},{"m":976.4,"v":1.225,"t":"976"},{"m":976.4,"v":1.07,"t":"2U/1G"},{"m":1014.4,"v":1.225,"t":"1015"},{"m":1014.4,"v":1.07,"t":"1U/2G"},{"m":1053.8,"v":1.225,"t":"1054"},{"m":1053.8,"v":1.07,"t":"3G"},{"m":957,"v":0.6,"t":"40"},{"m":995,"v":0.6,"t":"40"},{"m":1033.7,"v":0.6,"t":"40"}]}, "mark": {"type": "text", "fontSize": 11, "color": "#111", "baseline": "middle"}, "encoding": {"text": {"field": "t"}}},
   {"data": {"values": [{"m":1149.5,"v":1.25,"t":"GMP/UMP"}]}, "mark": {"type": "text", "fontSize": 11, "color": "#111", "align": "right", "baseline": "middle"}, "encoding": {"text": {"field": "t"}}}
  ]
 },
 {
  "width": 539, "height": 105,
  "encoding": {
   "x": {"field": "m", "type": "quantitative", "scale": {"domain": [925, 1153], "nice": false, "zero": false}, "axis": {"values": [925,930,935,940,945,950,955,960,965,970,975,980,985,990,995,1000,1005,1010,1015,1020,1025,1030,1035,1040,1045,1050,1055,1060,1065,1070,1075,1080,1085,1090,1095,1100,1105,1110,1115,1120,1125,1130,1135,1140,1145,1150], "format": "d", "labelExpr": "datum.value==925||datum.value==1125?datum.label:''", "labelOverlap": false, "labelFlush": false, "tickSize": 3, "labelPadding": 0, "labelFontSize": 10, "titleFontSize": 10, "title": "m/z", "titleX": 522, "titleY": 8, "titleAlign": "center", "titleBaseline": "middle"}},
   "y": {"field": "v", "type": "quantitative", "scale": {"domain": [-0.25, 6.39], "nice": false, "zero": false}, "axis": {"values": [0, 1, 2, 3, 4, 5], "labelExpr": "datum.value==0||datum.value==5?datum.label:''", "title": "x10^4", "titleY": 9}}
  },
  "layer": [
   {"data": {"values": [{"m":1009.1,"v":4.55},{"m":1024.5,"v":4.55},{"m":1039.1,"v":4.55},{"m":1054.4,"v":4.55}]}, "mark": {"type": "rule", "color": "#c6c6c6", "strokeWidth": 2}, "encoding": {"y2": {"datum": 0}}},
   {"data": {"name": "imp"}, "mark": {"type": "area", "color": "#a6d8b2", "line": {"color": "#34964a", "strokeWidth": 1}}, "encoding": {"y2": {"datum": 0}}},
   {"data": {"values": [{"m":1009.1,"v":2.5,"v2":2.95},{"m":1024.5,"v":2.5,"v2":2.95},{"m":1039.1,"v":2.5,"v2":2.95},{"m":1054.4,"v":2.5,"v2":2.95}]}, "mark": {"type": "rule", "color": "#111", "strokeWidth": 1.5}, "encoding": {"y2": {"field": "v2"}}},
   {"data": {"values": [{"m":1009.6,"v":5.52,"t":"1009"},{"m":1009.3,"v":4.8,"t":"3I"},{"m":1024.3,"v":5.52,"t":"1024"},{"m":1024.3,"v":4.8,"t":"2I/1G"},{"m":1040.6,"v":5.52,"t":"1039"},{"m":1040.6,"v":4.8,"t":"I/2G"},{"m":1054.4,"v":5.52,"t":"1054"},{"m":1054.4,"v":4.8,"t":"3G"},{"m":1016.5,"v":2.72,"t":"15"},{"m":1031,"v":2.72,"t":"15"},{"m":1048,"v":2.72,"t":"15"}]}, "mark": {"type": "text", "fontSize": 11, "color": "#111", "baseline": "middle"}, "encoding": {"text": {"field": "t"}}},
   {"data": {"values": [{"m":1149.5,"v":5.82,"t":"GMP/IMP"}]}, "mark": {"type": "text", "fontSize": 11, "color": "#111", "align": "right", "baseline": "middle"}, "encoding": {"text": {"field": "t"}}}
  ]
 }
]
}
